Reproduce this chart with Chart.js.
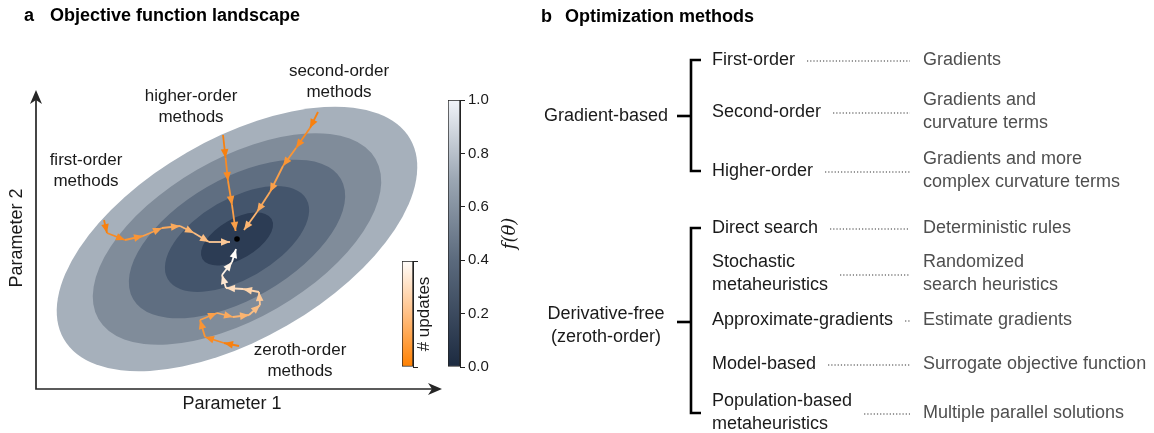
<!DOCTYPE html>
<html>
<head>
<meta charset="utf-8">
<script src="https://cdn.jsdelivr.net/npm/chart.js@4.4.1/dist/chart.umd.min.js"></script>
<style>
  html, body { margin: 0; padding: 0; background: #fff; }
  #wrap { position: relative; width: 1154px; height: 433px; overflow: hidden; }
  #wrap canvas { position: absolute; left: 0; top: 0; }
</style>
</head>
<body>
<div id="wrap">
  <canvas id="landscape" width="1154" height="433"></canvas>
  <canvas id="cbUpdates" width="1154" height="433"></canvas>
  <canvas id="cbValue" width="1154" height="433"></canvas>
  <canvas id="methods" width="1154" height="433"></canvas>
</div>
<script>
// ---- panel a data (parameter units) ----
const contourCenter = [10.05, 7.5];
const contourTilt = 30; // degrees
const semiMajor = [10, 8, 6, 4, 2];
const semiMinor = [5, 4, 3, 2, 1];
const contourColors = ["#a6b0bb", "#808c9a", "#5f6e81", "#44556c", "#2c3c54"];

const firstOrder = [[3.4, 8.45], [3.55, 7.8], [4.45, 7.45], [5.35, 7.65], [6.3, 8.05], [7.2, 8.15], [7.9, 7.8], [8.65, 7.35], [9.7, 7.35]];
const secondOrder = [[14.1, 13.85], [13.7, 13.05], [13.0, 12.05], [12.35, 11.15], [11.7, 9.85], [11.05, 8.85], [10.4, 7.95]];
const higherOrder = [[9.35, 12.7], [9.48, 11.55], [9.6, 10.4], [9.8, 9.2], [9.98, 7.9]];
const zerothOrder = [[10.15, 2.15], [9.4, 2.3], [8.45, 2.6], [8.2, 3.45], [9.05, 3.8], [9.85, 3.6], [10.65, 3.7], [11.2, 4.2], [11.15, 4.85], [10.35, 5.0], [9.5, 5.05], [9.3, 5.7], [9.8, 6.35], [10.0, 7.0]];
const maxUpdates = 13;

const pathLabels = [["first-order", "methods"], ["second-order", "methods"], ["higher-order", "methods"], ["zeroth-order", "methods"]];
const labelAnchors = [[2.5, 11.4], [15.15, 15.85], [7.75, 14.6], [13.2, 1.9]];

const valueTicks = [0, 0.2, 0.4, 0.6, 0.8, 1.0];

// ---- panel b data ----
const groups = [["Gradient-based"], ["Derivative-free", "(zeroth-order)"]];
const groupRows = [11.6, 32.2];
const methods = [["First-order"], ["Second-order"], ["Higher-order"], ["Direct search"], ["Stochastic", "metaheuristics"], ["Approximate-gradients"], ["Model-based"], ["Population-based", "metaheuristics"]];
const methodGroup = [0, 0, 0, 1, 1, 1, 1, 1];
const methodRows = [6.0, 11.2, 17.1, 22.8, 27.4, 32.0, 36.4, 41.3];
const descriptions = [["Gradients"], ["Gradients and", "curvature terms"], ["Gradients and more", "complex curvature terms"], ["Deterministic rules"], ["Randomized", "search heuristics"], ["Estimate gradients"], ["Surrogate objective function"], ["Multiple parallel solutions"]];

// ---- helpers ----
const FONT = '"Liberation Sans", Arial, sans-serif';
const TEXT = "#1a1a1a";
const ORANGE = [248, 128, 14];
const CREAM = [255, 252, 248];

function updateColor(step) {
  const t = Math.min(step / (maxUpdates - 1), 1);
  const c = ORANGE.map((v, i) => Math.round(v + (CREAM[i] - v) * t));
  return "rgb(" + c.join(",") + ")";
}

function drawLines(ctx, lines, x, y, lh) {
  lines.forEach((s, k) => ctx.fillText(s, x, y + (k - (lines.length - 1) / 2) * lh));
}

function arrowHead(ctx, x0, y0, x1, y1, len, half, color) {
  const a = Math.atan2(y1 - y0, x1 - x0);
  ctx.save();
  ctx.translate(x1, y1);
  ctx.rotate(a);
  ctx.beginPath();
  ctx.moveTo(0, 0);
  ctx.lineTo(-len, half);
  ctx.lineTo(-len, -half);
  ctx.closePath();
  ctx.fillStyle = color;
  ctx.fill();
  ctx.restore();
}

function stealth(ctx, x, y, angle) {
  ctx.save();
  ctx.translate(x, y);
  ctx.rotate(angle);
  ctx.beginPath();
  ctx.moveTo(0, 0);
  ctx.lineTo(-14, 6);
  ctx.lineTo(-10, 0);
  ctx.lineTo(-14, -6);
  ctx.closePath();
  ctx.fill();
  ctx.restore();
}

const common = {
  responsive: false,
  animation: false,
  devicePixelRatio: 1,
  events: [],
  plugins: { legend: { display: false }, tooltip: { enabled: false } }
};

// ---- panel a: landscape ----
const landscapePlugin = {
  id: "landscape",
  beforeDatasetsDraw(chart) {
    const { ctx, scales: { x, y } } = chart;
    const cx = x.getPixelForValue(contourCenter[0]);
    const cy = y.getPixelForValue(contourCenter[1]);
    ctx.save();
    semiMajor.forEach((a, i) => {
      const rx = x.getPixelForValue(a) - x.getPixelForValue(0);
      const ry = y.getPixelForValue(0) - y.getPixelForValue(semiMinor[i]);
      ctx.beginPath();
      ctx.ellipse(cx, cy, rx, ry, -contourTilt * Math.PI / 180, 0, Math.PI * 2);
      ctx.fillStyle = contourColors[i];
      ctx.fill();
    });
    ctx.restore();
  },
  afterDatasetDraw(chart, args) {
    const ds = chart.data.datasets[args.index];
    if (!ds.arrows) return;
    const pts = args.meta.data;
    for (let i = 1; i < pts.length; i++) {
      arrowHead(chart.ctx, pts[i - 1].x, pts[i - 1].y, pts[i].x, pts[i].y, 9, 3.8, updateColor(i - 1));
    }
  },
  afterDraw(chart) {
    const { ctx, chartArea: area, scales: { x, y } } = chart;
    ctx.save();
    // axis arrows
    ctx.strokeStyle = "#262626";
    ctx.fillStyle = "#262626";
    ctx.lineWidth = 1.7;
    ctx.beginPath();
    ctx.moveTo(area.left, area.top + 10);
    ctx.lineTo(area.left, area.bottom);
    ctx.lineTo(area.right - 10, area.bottom);
    ctx.stroke();
    stealth(ctx, area.left, area.top, -Math.PI / 2);
    stealth(ctx, area.right, area.bottom, 0);

    // annotations
    ctx.fillStyle = TEXT;
    ctx.textAlign = "center";
    ctx.textBaseline = "middle";
    ctx.font = "17px " + FONT;
    pathLabels.forEach((lines, i) => {
      drawLines(ctx, lines, x.getPixelForValue(labelAnchors[i][0]), y.getPixelForValue(labelAnchors[i][1]) + 10, 20.5);
    });

    ctx.font = "18px " + FONT;
    ctx.fillText("Parameter 1", area.left + 196, area.bottom + 15);
    ctx.save();
    ctx.translate(area.left - 19, area.top + 148);
    ctx.rotate(-Math.PI / 2);
    ctx.fillText("Parameter 2", 0, 0);
    ctx.restore();

    // panel title
    ctx.textAlign = "left";
    ctx.font = "bold 18px " + FONT;
    ctx.fillStyle = "#000";
    ctx.fillText("a", 24, 16);
    ctx.fillText("Objective function landscape", 50, 16);
    ctx.restore();
  }
};

const landscapeSets = [{
  data: [{ x: contourCenter[0], y: contourCenter[1] }],
  pointRadius: 2.8,
  pointBackgroundColor: "#000",
  pointBorderWidth: 0,
  showLine: false
}];
[firstOrder, secondOrder, higherOrder, zerothOrder].forEach(p => {
  landscapeSets.push({
    data: p.map(([px, py]) => ({ x: px, y: py })),
    showLine: true,
    arrows: true,
    pointRadius: 0,
    borderWidth: 1.8,
    borderColor: updateColor(0),
    segment: { borderColor: c => updateColor(c.p0DataIndex) },
    clip: false
  });
});

new Chart(document.getElementById("landscape"), {
  type: "scatter",
  data: { datasets: landscapeSets },
  options: Object.assign({}, common, {
    layout: { padding: { left: 36, top: 90, right: 1154 - 442, bottom: 433 - 389 } },
    scales: {
      x: { display: false, min: 0, max: 20.3 },
      y: { display: false, min: 0, max: 14.95 }
    }
  }),
  plugins: [landscapePlugin]
});

// ---- colour bars ----
function colorBar(id, area, stops, tickValues, showLabels, label, labelFont, labelX) {
  const axisW = 60;
  new Chart(document.getElementById(id), {
    type: "bar",
    data: {
      labels: [""],
      datasets: [{
        data: [1],
        backgroundColor: c => {
          const a = c.chart.chartArea;
          if (!a) return stops[0][1];
          const g = c.chart.ctx.createLinearGradient(0, a.bottom, 0, a.top);
          stops.forEach(s => g.addColorStop(s[0], s[1]));
          return g;
        },
        borderColor: "#222",
        borderWidth: 1,
        borderSkipped: false,
        barPercentage: 1,
        categoryPercentage: 1
      }]
    },
    options: Object.assign({}, common, {
      layout: { padding: { left: area[0], top: area[1], right: 1154 - area[2] - axisW, bottom: 433 - area[3] } },
      scales: {
        x: { display: false },
        y: {
          position: "right",
          min: 0,
          max: 1,
          afterBuildTicks: s => { s.ticks = tickValues.map(v => ({ value: v })); },
          afterFit: s => { s.width = axisW; },
          ticks: {
            display: showLabels,
            padding: 3,
            color: TEXT,
            font: { family: FONT, size: 15 },
            callback: v => v.toFixed(1)
          },
          grid: { drawOnChartArea: false, tickLength: 5, color: "#222", lineWidth: 1 },
          border: { color: "#222", width: 1 }
        }
      }
    }),
    plugins: [{
      id: "cbLabel",
      afterDraw(chart) {
        const { ctx, chartArea: a } = chart;
        ctx.save();
        ctx.fillStyle = TEXT;
        ctx.font = labelFont;
        ctx.textAlign = "center";
        ctx.textBaseline = "middle";
        ctx.translate(a.right + labelX, (a.top + a.bottom) / 2);
        ctx.rotate(-Math.PI / 2);
        ctx.fillText(label, 0, 0);
        ctx.restore();
      }
    }]
  });
}

colorBar("cbUpdates", [402, 261, 413, 367],
  [[0, "#ff8000"], [0.5, "#ffbf84"], [1, "#fffdfb"]],
  [0, 1], false, "# updates", "17px " + FONT, 11);

colorBar("cbValue", [448, 100, 460, 367],
  [[0, "#1c2a40"], [0.4, "#5b6a7d"], [0.7, "#9ba6b3"], [1, "#f1f4f9"]],
  valueTicks, true, "f(θ)", "italic 18px \"DejaVu Serif\", serif", 50);

// ---- panel b: method taxonomy ----
const GROUP_X = 7.6, STUB_X = 14.7, BRACKET_X = 16.1, TICK_X = 17.1;
const METHOD_X = 18.2, LEADER_END = 38.0, DESC_X = 39.3, LINE_H = 2.3;

const measure = document.createElement("canvas").getContext("2d");
measure.font = "18px " + FONT;

const methodSets = [];
groups.forEach((g, gi) => {
  const rows = methodRows.filter((r, i) => methodGroup[i] === gi);
  const top = Math.min(...rows), bottom = Math.max(...rows);
  methodSets.push({
    data: [{ x: TICK_X, y: top }, { x: BRACKET_X, y: top }, { x: BRACKET_X, y: bottom }, { x: TICK_X, y: bottom }],
    borderColor: "#000", borderWidth: 2.6, borderJoinStyle: "miter", borderCapStyle: "butt"
  });
  methodSets.push({
    data: [{ x: STUB_X, y: groupRows[gi] }, { x: BRACKET_X, y: groupRows[gi] }],
    borderColor: "#000", borderWidth: 2.6, borderCapStyle: "butt"
  });
});
methods.forEach((m, i) => {
  const w = Math.max(...m.map(s => measure.measureText(s).width));
  methodSets.push({
    data: [{ x: METHOD_X + (w + 12) / 10, y: methodRows[i] + 0.1 }, { x: LEADER_END, y: methodRows[i] + 0.1 }],
    borderColor: "#333", borderWidth: 1.2, borderDash: [1.2, 2.0], borderCapStyle: "butt"
  });
});
methodSets.forEach(d => { d.showLine = true; d.pointRadius = 0; d.clip = false; });

new Chart(document.getElementById("methods"), {
  type: "scatter",
  data: { datasets: methodSets },
  options: Object.assign({}, common, {
    layout: { padding: { left: 530, top: 0, right: 0, bottom: 0 } },
    scales: {
      x: { display: false, min: 0, max: 62.4 },
      y: { display: false, min: 0, max: 43.3, reverse: true }
    }
  }),
  plugins: [{
    id: "taxonomy",
    afterDraw(chart) {
      const { ctx, scales: { x, y } } = chart;
      const lh = y.getPixelForValue(LINE_H) - y.getPixelForValue(0);
      ctx.save();
      ctx.textBaseline = "middle";
      ctx.font = "18px " + FONT;
      ctx.fillStyle = TEXT;
      ctx.textAlign = "center";
      groups.forEach((g, i) => drawLines(ctx, g, x.getPixelForValue(GROUP_X), y.getPixelForValue(groupRows[i] + (g.length > 1 ? 0.4 : 0)), lh));
      ctx.textAlign = "left";
      methods.forEach((m, i) => drawLines(ctx, m, x.getPixelForValue(METHOD_X), y.getPixelForValue(methodRows[i]), lh));
      ctx.fillStyle = "#4f4f4f";
      descriptions.forEach((d, i) => drawLines(ctx, d, x.getPixelForValue(DESC_X), y.getPixelForValue(methodRows[i]), lh));
      ctx.fillStyle = "#000";
      ctx.font = "bold 18px " + FONT;
      ctx.fillText("b", 541, 17);
      ctx.fillText("Optimization methods", 565, 17);
      ctx.restore();
    }
  }]
});
</script>
</body>
</html>
